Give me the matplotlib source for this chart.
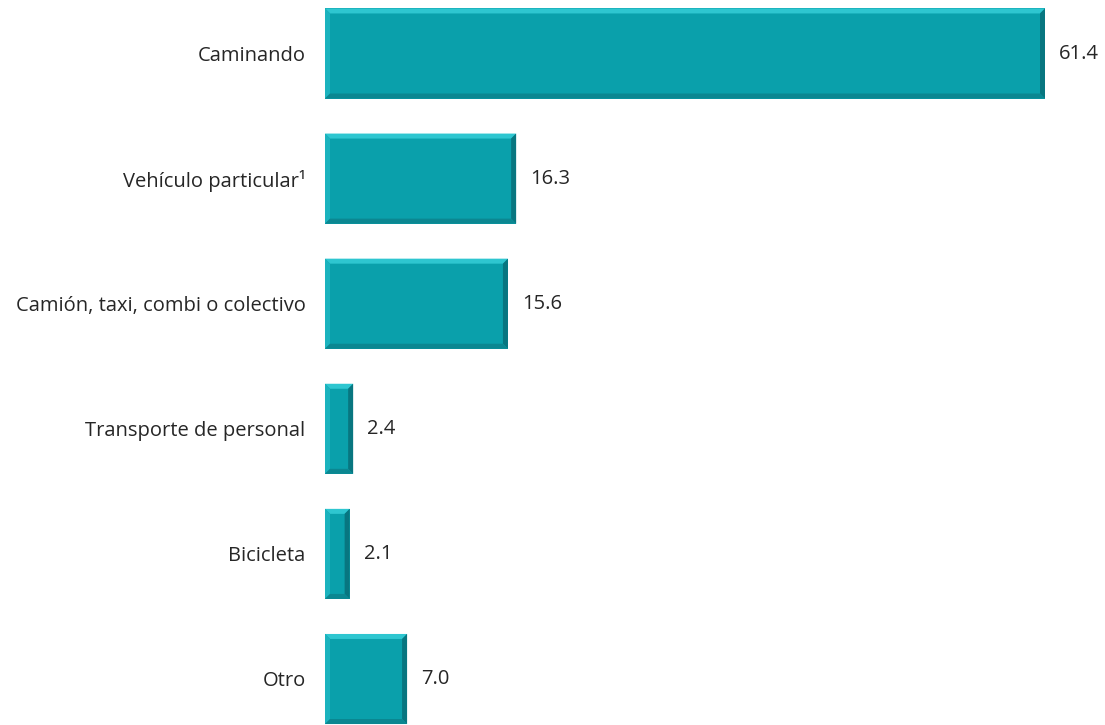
import matplotlib

matplotlib.use("Agg")
import matplotlib.pyplot as plt
from matplotlib.patches import Polygon, Rectangle

plt.rcParams["font.family"] = ["Open Sans", "DejaVu Sans"]

categories = [
    "Caminando",
    "Vehículo particular¹",
    "Camión, taxi, combi o colectivo",
    "Transporte de personal",
    "Bicicleta",
    "Otro",
]
values = [61.4, 16.3, 15.6, 2.4, 2.1, 7.0]
value_labels = ["61.4", "16.3", "15.6", "2.4", "2.1", "7.0"]

BASE = "#0aa0ab"
LIGHT = "#2ec6d0"
LIGHT2 = "#1bb3be"
DARK = "#087680"
DARK2 = "#0b8791"

W, H = 1105, 725
fig = plt.figure(figsize=(W / 100, H / 100), dpi=100)

# axes placed in pixels: left at 325px, category centres 125px apart
ax_left, ax_right = 325, 1105
top_c, step = 53.5, 125.1
ax_top = top_c - 0.5 * step
ax_bot = top_c + 5.5 * step
ax = fig.add_axes([ax_left / W, 1 - ax_bot / H, (ax_right - ax_left) / W, (ax_bot - ax_top) / H])
px_per_x = 720 / 61.4
xmax = (ax_right - ax_left) / px_per_x
ax.set_xlim(0, xmax)
ax.set_ylim(5.5, -0.5)

bar_h = 0.72
bev_x = 5 / px_per_x
bev_y = 5 / step

for i, v in enumerate(values):
    x0, x1 = 0, v
    y0, y1 = i - bar_h / 2, i + bar_h / 2  # y0 is top (inverted axis)
    ax.add_patch(Rectangle((x0, y0), v, bar_h, facecolor=BASE, edgecolor="none"))
    bx = min(bev_x, v / 4)
    # top bevel
    ax.add_patch(Polygon([(x0, y0), (x1, y0), (x1 - bx, y0 + bev_y), (x0 + bx, y0 + bev_y)],
                         facecolor=LIGHT, edgecolor="none"))
    # left bevel
    ax.add_patch(Polygon([(x0, y0), (x0 + bx, y0 + bev_y), (x0 + bx, y1 - bev_y), (x0, y1)],
                         facecolor=LIGHT2, edgecolor="none"))
    # right bevel
    ax.add_patch(Polygon([(x1, y0), (x1 - bx, y0 + bev_y), (x1 - bx, y1 - bev_y), (x1, y1)],
                         facecolor=DARK, edgecolor="none"))
    # bottom bevel
    ax.add_patch(Polygon([(x0, y1), (x0 + bx, y1 - bev_y), (x1 - bx, y1 - bev_y), (x1, y1)],
                         facecolor=DARK2, edgecolor="none"))
    ax.annotate(value_labels[i], (v, i), xytext=(10, 0), textcoords="offset points",
                ha="left", va="center", fontsize=14.5, color="#262626")

ax.set_yticks(range(len(categories)))
ax.set_yticklabels(categories, fontsize=14.5, color="#262626")
ax.tick_params(axis="y", length=0, pad=14)
ax.set_xticks([])
for s in ax.spines.values():
    s.set_visible(False)

fig.savefig("out.png", dpi=100)
